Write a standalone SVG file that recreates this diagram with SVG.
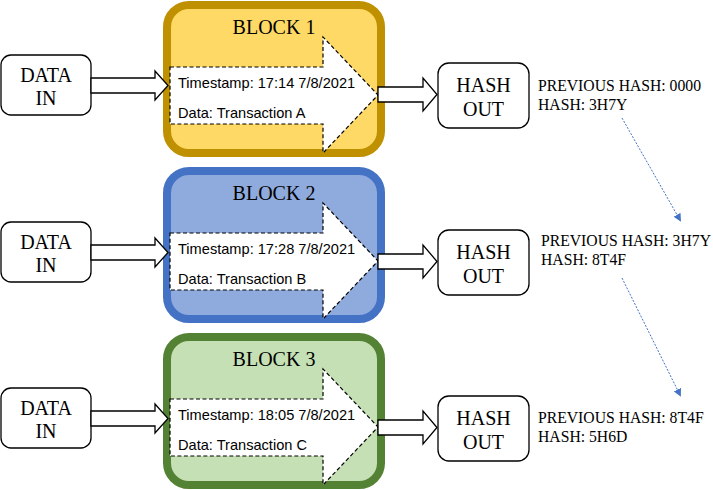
<svg xmlns="http://www.w3.org/2000/svg" width="713" height="490" viewBox="0 0 713 490">
<defs>
<style>
.box{fill:#fff;stroke:#000;stroke-width:1.3}
.arr{fill:#fff;stroke:#000;stroke-width:1.3;stroke-linejoin:miter}
.dash{fill:#fff;stroke:#000;stroke-width:1.2;stroke-dasharray:4,2.5}
.serif{font-family:"Liberation Serif","Times New Roman",serif;fill:#000}
.big{font-size:20px}
.hash{font-size:15.7px}
.sans{font-family:"Liberation Sans",Arial,sans-serif;font-size:14.6px;fill:#000}
.link{stroke:#4472C4;stroke-width:1;stroke-dasharray:2,1.5;fill:none}
</style>
<marker id="ah" markerWidth="8" markerHeight="8" refX="6" refY="4" orient="auto" markerUnits="userSpaceOnUse">
<path d="M0,0 L8,4 L0,8 Z" fill="#4472C4"/>
</marker>
</defs>
<rect width="713" height="490" fill="#fff"/>

<g id="block1">
<rect x="167" y="5" width="214" height="148" rx="22" fill="#FFD966" stroke="#BF9000" stroke-width="8"/>
<path class="dash" d="M170,67 H323 V37 L378,95 L323,153 V124 H170 Z"/>
<text class="serif big" x="274" y="34" text-anchor="middle">BLOCK 1</text>
<text class="sans" x="178" y="88">Timestamp: 17:14 7/8/2021</text>
<text class="sans" x="178" y="118">Data: Transaction A</text>
</g>
<g id="block2" transform="translate(0,166)">
<rect x="167" y="5" width="214" height="148" rx="22" fill="#8FAADC" stroke="#4472C4" stroke-width="8"/>
<path class="dash" d="M170,67 H323 V37 L378,95 L323,153 V124 H170 Z"/>
<text class="serif big" x="274" y="34" text-anchor="middle">BLOCK 2</text>
<text class="sans" x="178" y="88">Timestamp: 17:28 7/8/2021</text>
<text class="sans" x="178" y="118">Data: Transaction B</text>
</g>
<g id="block3" transform="translate(0,332)">
<rect x="167" y="5" width="214" height="148" rx="22" fill="#C5E0B4" stroke="#548235" stroke-width="8"/>
<path class="dash" d="M170,67 H323 V37 L378,95 L323,153 V124 H170 Z"/>
<text class="serif big" x="274" y="34" text-anchor="middle">BLOCK 3</text>
<text class="sans" x="178" y="88">Timestamp: 18:05 7/8/2021</text>
<text class="sans" x="178" y="118">Data: Transaction C</text>
</g>

<g id="datain1">
<rect class="box" x="1" y="55" width="90" height="60" rx="10"/>
<text class="serif big" x="46" y="82" text-anchor="middle">DATA</text>
<text class="serif big" x="46" y="105" text-anchor="middle">IN</text>
</g>
<g id="datain2" transform="translate(0,167)">
<rect class="box" x="1" y="55" width="90" height="60" rx="10"/>
<text class="serif big" x="46" y="82" text-anchor="middle">DATA</text>
<text class="serif big" x="46" y="105" text-anchor="middle">IN</text>
</g>
<g id="datain3" transform="translate(0,333)">
<rect class="box" x="1" y="55" width="90" height="60" rx="10"/>
<text class="serif big" x="46" y="82" text-anchor="middle">DATA</text>
<text class="serif big" x="46" y="105" text-anchor="middle">IN</text>
</g>

<g id="hashout1">
<rect class="box" x="438" y="63" width="91" height="65" rx="11"/>
<text class="serif big" x="483.5" y="92" text-anchor="middle">HASH</text>
<text class="serif big" x="483.5" y="116" text-anchor="middle">OUT</text>
</g>
<g id="hashout2" transform="translate(0,167)">
<rect class="box" x="438" y="63" width="91" height="65" rx="11"/>
<text class="serif big" x="483.5" y="92" text-anchor="middle">HASH</text>
<text class="serif big" x="483.5" y="116" text-anchor="middle">OUT</text>
</g>
<g id="hashout3" transform="translate(0,333)">
<rect class="box" x="438" y="63" width="91" height="65" rx="11"/>
<text class="serif big" x="483.5" y="92" text-anchor="middle">HASH</text>
<text class="serif big" x="483.5" y="116" text-anchor="middle">OUT</text>
</g>

<g id="hashinfo1">
<text class="serif hash" x="538" y="91">PREVIOUS HASH: 0000</text>
<text class="serif hash" x="538" y="110">HASH: 3H7Y</text>
</g>
<g id="hashinfo2">
<text class="serif hash" x="541" y="246">PREVIOUS HASH: 3H7Y</text>
<text class="serif hash" x="541" y="265">HASH: 8T4F</text>
</g>
<g id="hashinfo3">
<text class="serif hash" x="538" y="423">PREVIOUS HASH: 8T4F</text>
<text class="serif hash" x="538" y="442">HASH: 5H6D</text>
</g>

<g id="connectors">
<path class="arr" d="M91,78 H155 V71 L168,85.5 L155,100 V93 H91 Z"/>
<path class="arr" transform="translate(0,167)" d="M91,78 H155 V71 L168,85.5 L155,100 V93 H91 Z"/>
<path class="arr" transform="translate(0,333)" d="M91,78 H155 V71 L168,85.5 L155,100 V93 H91 Z"/>
<path class="arr" d="M378,87 H423 V78 L437,94.5 L423,111 V102 H378 Z"/>
<path class="arr" transform="translate(0,167)" d="M378,87 H423 V78 L437,94.5 L423,111 V102 H378 Z"/>
<path class="arr" transform="translate(0,333)" d="M378,87 H423 V78 L437,94.5 L423,111 V102 H378 Z"/>
<line class="link" x1="622" y1="118" x2="680" y2="220" marker-end="url(#ah)"/>
<line class="link" x1="622" y1="278" x2="680" y2="395" marker-end="url(#ah)"/>
</g>
</svg>
